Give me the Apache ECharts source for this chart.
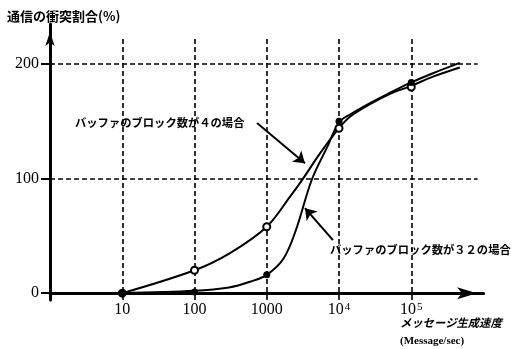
<!DOCTYPE html>
<html><head><meta charset="utf-8">
<script src="https://cdn.jsdelivr.net/npm/echarts@6/dist/echarts.min.js"></script>
<style>html,body{margin:0;padding:0;background:#fff}#c{width:512px;height:349px}</style>
</head><body><div id="c"></div>
<script>
// tick values
const xTicks = [10, 100, 1000, 10000, 100000];
const yTicks = [0, 100, 200];
// measured points (markers) at each decade
const marker4 = [0, 20, 58, 144, 180];
const marker32 = [0, 1, 16, 150, 184];
// curve points
const curve4X = [10, 100, 310, 1000, 2090, 3180, 5460, 10000, 14200, 26900, 51000, 100000, 200000, 470000];
const curve4Y = [0, 20, 35, 58, 84, 100, 122, 144, 154, 165, 174, 181, 189, 197];
const curve32X = [10, 100, 300, 585, 1000, 1700, 2500, 4200, 6800, 10000, 14200, 26900, 51000, 100000, 200000, 470000];
const curve32Y = [0, 2, 5, 10, 16, 30, 54, 99, 127, 149, 156, 166, 175, 184, 192, 201];

const label4 = 'バッファのブロック数が４の場合';
const label32 = 'バッファのブロック数が３２の場合';

// annotation arrow anchors in data space [x, y]
const arrow4 = [[733, 148.5], [3380, 113.5]];
const arrow32 = [[8260, 46.3], [3380, 74.2]];

const zip = (xs, ys) => xs.map((x, i) => [x, ys[i]]);

const chart = echarts.init(document.getElementById('c'), null, {renderer: 'canvas'});
const dash = {type: [5, 3], width: 1.6, color: '#000'};
const gridLines = [];
xTicks.forEach(v => gridLines.push([{coord: [v, -6]}, {coord: [v, 224]}]));
yTicks.filter(v => v > 0).forEach(v => gridLines.push([{coord: [1, v]}, {coord: [830000, v]}]));

chart.setOption({
  animation: false,
  backgroundColor: '#fff',
  title: {
    text: '通信の衝突割合(%)', left: 2, top: 5,
    textStyle: {fontSize: 13, fontWeight: 'bold', color: '#000', fontFamily: 'Noto Sans CJK JP'}
  },
  grid: {left: 50, right: 28.5, top: 24, bottom: 49},
  xAxis: {
    type: 'log', min: 1, max: 1000000, logBase: 10,
    axisLine: {onZero: true, lineStyle: {color: '#000', width: 3}, symbol: ['none', 'arrow'], symbolSize: [9, 20], symbolOffset: [0, -6.5]},
    axisTick: {show: false},
    splitLine: {show: false},
    axisLabel: {
      margin: 2, color: '#000',
      formatter: function (v) {
        const e = Math.round(Math.log10(v));
        if (e === 1) return '{n|10}';
        if (e === 2) return '{n|100}';
        if (e === 3) return '{n|1000}';
        if (e === 4 || e === 5) return '{n|10}{s|' + e + '}';
        return '';
      },
      rich: {
        n: {fontFamily: 'Liberation Serif', fontSize: 16, color: '#000', lineHeight: 16},
        s: {fontFamily: 'Liberation Serif', fontSize: 11, color: '#000', verticalAlign: 'top', lineHeight: 16, padding: [0, 0, 6, 1]}
      }
    }
  },
  yAxis: {
    type: 'value', min: -6, max: 235,
    axisLine: {show: true, onZero: false, lineStyle: {color: '#000', width: 3}, symbol: ['none', 'arrow'], symbolSize: [7, 14], symbolOffset: [0, -8]},
    axisTick: {show: true, customValues: yTicks, length: 9, lineStyle: {width: 2, color: '#000'}},
    axisLabel: {customValues: yTicks, margin: 11, color: '#000', fontFamily: 'Liberation Serif', fontSize: 16},
    splitLine: {show: false}
  },
  series: [
    {
      type: 'line', data: [], silent: true,
      markLine: {silent: true, symbol: ['none', 'none'], label: {show: false}, lineStyle: dash, data: gridLines, animation: false}
    },
    {
      type: 'line', data: zip(curve4X, curve4Y), smooth: 0.35, showSymbol: false,
      lineStyle: {color: '#000', width: 2}, silent: true,
      markLine: {silent: true, symbol: ['none', 'arrow'], symbolSize: 11, label: {show: false},
        lineStyle: {type: 'solid', width: 2, color: '#000'},
        data: [[{coord: arrow4[0]}, {coord: arrow4[1]}], [{coord: arrow32[0]}, {coord: arrow32[1]}]], animation: false}
    },
    {
      type: 'line', data: zip(curve32X, curve32Y), smooth: 0.35, showSymbol: false,
      lineStyle: {color: '#000', width: 2}, silent: true
    },
    {
      type: 'scatter', data: zip(xTicks, marker4), symbol: 'circle', symbolSize: 7,
      itemStyle: {color: '#fff', borderColor: '#000', borderWidth: 2, opacity: 1}, z: 5
    },
    {
      type: 'scatter', data: zip(xTicks, marker32), symbol: 'circle', symbolSize: 7,
      itemStyle: {color: '#000', opacity: 1}, z: 6
    }
  ],
  graphic: [
    {type: 'text', x: 75, y: 123, style: {text: label4, fontSize: 11.3, fontWeight: 'bold', fill: '#000', fontFamily: 'Noto Sans CJK JP', verticalAlign: 'middle'}},
    {type: 'text', x: 330, y: 250, style: {text: label32, fontSize: 11.3, fontWeight: 'bold', fill: '#000', fontFamily: 'Noto Sans CJK JP', verticalAlign: 'middle'}},
    {type: 'text', x: 400, y: 323, style: {text: 'メッセージ生成速度', fontSize: 11.3, fontWeight: 'bold', fontStyle: 'italic', fill: '#000', fontFamily: 'Noto Sans CJK JP', verticalAlign: 'middle'}},
    {type: 'text', x: 400, y: 341, style: {text: '(Message/sec)', fontSize: 11, fontWeight: 'bold', fill: '#000', fontFamily: 'Liberation Serif', verticalAlign: 'middle'}}
  ]
});
</script>
</body></html>
